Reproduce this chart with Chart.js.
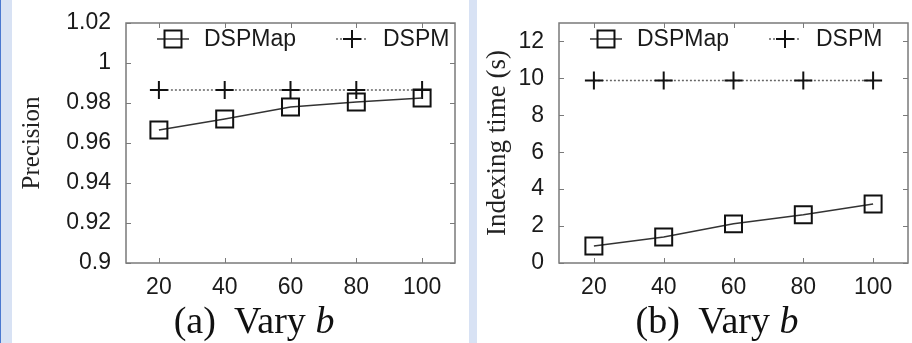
<!DOCTYPE html>
<html lang="en">
<head>
<meta charset="UTF-8" />
<title>Vary b</title>
<style>
  html, body { margin: 0; padding: 0; }
  body { width: 912px; height: 343px; overflow: hidden; position: relative; background: #fff; }
  .strip { position: absolute; top: 0; height: 343px; background: #d8e2f4; }
  #stripLeft { left: 0; width: 12px; border-left: 1px solid #4a78d0; box-sizing: border-box; }
  #stripMid { left: 469px; width: 8px; }
  canvas { position: absolute; top: 0; }
  #chartA { left: 12px; }
  #chartB { left: 477px; }
  .caption { position: absolute; top: 301px; font-family: "Liberation Serif", serif; font-size: 38px;
             line-height: 38px; color: #111; white-space: pre; transform: translateX(-50%); }
</style>
</head>
<body>
  <div class="strip" id="stripLeft"></div>
  <div class="strip" id="stripMid"></div>
  <canvas id="chartA" width="457" height="343"></canvas>
  <canvas id="chartB" width="445" height="343"></canvas>
  <div class="caption" style="left:254px">(a)  Vary <i>b</i></div>
  <div class="caption" style="left:717px">(b)  Vary <i>b</i></div>

  <script src="https://cdn.jsdelivr.net/npm/chart.js"></script>
  <script>
    const bValues = [20, 40, 60, 80, 100];
    const seriesNames = ['DSPMap', 'DSPM'];
    const precisionDSPMap = [0.9665, 0.972, 0.978, 0.9805, 0.9825];
    const precisionDSPM = [0.9865, 0.9865, 0.9865, 0.9865, 0.9865];
    const timeDSPMap = [0.92, 1.41, 2.12, 2.61, 3.19];
    const timeDSPM = [9.89, 9.89, 9.89, 9.89, 9.89];
    const precisionTicks = [0.9, 0.92, 0.94, 0.96, 0.98, 1, 1.02];
    const timeTicks = [0, 2, 4, 6, 8, 10, 12];

    const sansFont = { family: 'Liberation Sans, Arial, sans-serif', size: 23 };

    // caja gris, marcas hacia dentro y leyenda dentro del área
    const frameAndLegend = {
      id: 'frameAndLegend',
      afterDraw(chart) {
        const ctx = chart.ctx;
        const a = chart.chartArea;
        const sx = chart.scales.x, sy = chart.scales.y;
        ctx.save();
        ctx.strokeStyle = '#7a7a7a';
        ctx.lineWidth = 1.5;
        ctx.strokeRect(a.left, a.top, a.right - a.left, a.bottom - a.top);
        ctx.lineWidth = 1;
        ctx.beginPath();
        sx.ticks.forEach(t => {
          const px = Math.round(sx.getPixelForValue(t.value)) + 0.5;
          ctx.moveTo(px, a.bottom); ctx.lineTo(px, a.bottom - 5);
          ctx.moveTo(px, a.top); ctx.lineTo(px, a.top + 5);
        });
        sy.ticks.forEach(t => {
          const py = Math.round(sy.getPixelForValue(t.value)) + 0.5;
          ctx.moveTo(a.left, py); ctx.lineTo(a.left + 5, py);
          ctx.moveTo(a.right, py); ctx.lineTo(a.right - 5, py);
        });
        ctx.stroke();

        const ly = a.top + 16;
        chart.data.datasets.forEach((ds, i) => {
          const base = a.left + (i === 0 ? 31 : 210);
          ctx.strokeStyle = ds.borderColor;
          ctx.lineWidth = ds.borderWidth;
          ctx.setLineDash(ds.borderDash || []);
          ctx.beginPath();
          ctx.moveTo(base, ly); ctx.lineTo(base + 32, ly);
          ctx.stroke();
          ctx.setLineDash([]);
          ctx.strokeStyle = ds.pointBorderColor;
          ctx.lineWidth = ds.pointBorderWidth;
          const cx = base + 16;
          ctx.beginPath();
          if (ds.pointStyle === 'rect') {
            const h = ds.pointRadius * Math.SQRT1_2;
            ctx.rect(cx - h, ly - h, 2 * h, 2 * h);
          } else {
            const r = ds.pointRadius;
            ctx.moveTo(cx - r, ly); ctx.lineTo(cx + r, ly);
            ctx.moveTo(cx, ly - r); ctx.lineTo(cx, ly + r);
          }
          ctx.stroke();
          ctx.fillStyle = '#1a1a1a';
          ctx.font = sansFont.size + 'px ' + sansFont.family;
          ctx.textBaseline = 'middle';
          ctx.textAlign = 'left';
          ctx.fillText(ds.label, base + 47, ly + 1);
        });
        ctx.restore();
      }
    };

    function makeChart(id, mapVals, pmVals, yTicks, yMin, yMax, yTitle, titleSize, yWidth, rightPad) {
      const pts = vals => vals.map((v, i) => ({ x: bValues[i], y: v }));
      return new Chart(document.getElementById(id), {
        type: 'line',
        data: {
          datasets: [{
            label: seriesNames[0],
            data: pts(mapVals),
            borderColor: '#333',
            borderWidth: 1.5,
            pointStyle: 'rect',
            pointRadius: 12,
            pointBorderColor: '#111',
            pointBorderWidth: 2,
            pointBackgroundColor: 'rgba(0,0,0,0)',
            tension: 0
          }, {
            label: seriesNames[1],
            data: pts(pmVals),
            borderColor: '#666',
            borderWidth: 1.5,
            borderDash: [2, 2],
            pointStyle: 'cross',
            pointRadius: 9,
            pointBorderColor: '#111',
            pointBorderWidth: 2,
            tension: 0
          }]
        },
        options: {
          responsive: false,
          animation: false,
          layout: { padding: { left: 0, right: rightPad, top: 23, bottom: 0 } },
          plugins: { legend: { display: false }, tooltip: { enabled: false } },
          scales: {
            x: {
              type: 'linear',
              min: 10,
              max: 110,
              afterBuildTicks: s => { s.ticks = bValues.map(v => ({ value: v })); },
              afterFit: s => { s.height = 80; },
              grid: { display: false },
              border: { display: false },
              ticks: { font: sansFont, color: '#1a1a1a', padding: 3, maxRotation: 0, callback: v => String(v) }
            },
            y: {
              min: yMin,
              max: yMax,
              afterBuildTicks: s => { s.ticks = yTicks.map(v => ({ value: v })); },
              afterFit: s => { s.width = yWidth; },
              grid: { display: false },
              border: { display: false },
              ticks: { font: sansFont, color: '#1a1a1a', padding: 7, callback: v => String(v) },
              title: {
                display: true,
                text: yTitle,
                color: '#222',
                font: { family: 'Liberation Serif, Times New Roman, serif', size: titleSize },
                padding: { top: 5, bottom: 0 }
              }
            }
          }
        },
        plugins: [frameAndLegend]
      });
    }

    makeChart('chartA', precisionDSPMap, precisionDSPM, precisionTicks, 0.9, 1.02, 'Precision', 25, 114, 10);
    makeChart('chartB', timeDSPMap, timeDSPM, timeTicks, 0, 13, 'Indexing time (s)', 27, 82, 2);
  </script>
</body>
</html>
